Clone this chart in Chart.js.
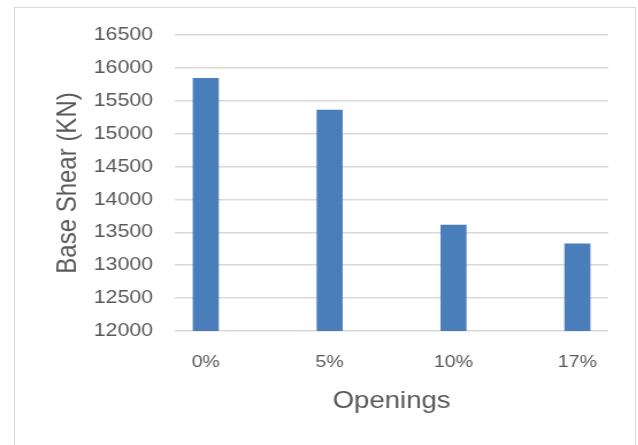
<!DOCTYPE html>
<html>
<head>
<meta charset="utf-8">
<script src="https://cdn.jsdelivr.net/npm/chart.js@4"></script>
<style>
  body { margin: 0; background: #fff; }
  #frame { position: absolute; left: 14px; top: 7px; width: 622px; height: 445px; border: 1.5px solid #d9d9d9; border-bottom: none; box-sizing: border-box; }
  #wrap { position: absolute; left: 0; top: 0; width: 555px; height: 445px; transform: scaleX(1.15); transform-origin: 0 0; }
</style>
</head>
<body>
<div id="frame"></div>
<div id="wrap"><canvas id="myChart" width="555" height="445"></canvas></div>
<script>
const openings = ["0%", "5%", "10%", "17%"];
const baseShear = [15840, 15360, 13610, 13325];
const yTicks = [12000, 12500, 13000, 13500, 14000, 14500, 15000, 15500, 16000, 16500];

const textColor = "#595959";
const ctx = document.getElementById("myChart");

const chart = new Chart(ctx, {
  type: "bar",
  data: {
    datasets: [
      {
        label: "Base Shear",
        data: baseShear.map((v, i) => ({ x: i, y: v })),
        backgroundColor: "#4a7ebb",
        borderWidth: 0,
        barThickness: 22,
      },
    ],
  },
  options: {
    responsive: false,
    animation: false,
    layout: {
      padding: { left: 30, right: 26, top: 35, bottom: 12 },
    },
    plugins: {
      legend: { display: false },
      tooltip: { enabled: false },
    },
    scales: {
      x: {
        type: "linear",
        offset: false,
        min: -0.25,
        max: 3.25,
        afterBuildTicks: (scale) => {
          scale.ticks = openings.map((_, i) => ({ value: i }));
        },
        afterFit: (scale) => {
          scale.height = 102;
        },
        ticks: {
          callback: (v) => openings[v],
          color: textColor,
          font: { family: "Liberation Sans", size: 17 },
          padding: 21,
          maxRotation: 0,
        },
        grid: { display: false, drawTicks: false, offset: false },
        border: { display: false },
        title: {
          display: true,
          text: "Openings",
          color: textColor,
          font: { family: "Liberation Sans", size: 24 },
          padding: { top: 0, bottom: 17 },
        },
      },
      y: {
        min: yTicks[0],
        max: yTicks[yTicks.length - 1],
        afterBuildTicks: (scale) => {
          scale.ticks = yTicks.map((v) => ({ value: v }));
        },
        afterFit: (scale) => {
          scale.width = 122;
        },
        ticks: {
          color: textColor,
          font: { family: "Liberation Sans", size: 18.5 },
          padding: 19,
          callback: (v) => String(v),
        },
        grid: { color: "#d9d9d9", lineWidth: 1.5, drawTicks: false },
        border: { display: false },
        title: {
          display: true,
          text: "Base Shear (KN)",
          color: textColor,
          font: { family: "Liberation Sans", size: 24 },
          padding: { top: 15, bottom: 0 },
        },
      },
    },
  },
});
</script>
</body>
</html>
